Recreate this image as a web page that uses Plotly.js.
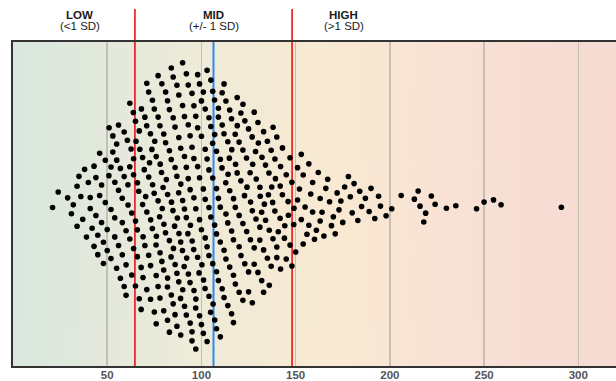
<!DOCTYPE html>
<html><head><meta charset="utf-8">
<script src="https://cdn.plot.ly/plotly-3.0.1.min.js"></script>
<style>html,body{margin:0;padding:0;background:#fff}#chart{width:616px;height:381px}</style>
</head><body><div id="chart"></div>
<script>
// ---- data ----
const scores = [
21,24,29,
31,32,34,34,
35,36,37,38,39,
40,41,41,42,43,43,44,44,
45,45,46,46,47,47,48,48,49,49,
50,50,51,51,52,52,52,53,53,54,54,54,
55,55,55,56,56,56,57,57,58,58,58,59,59,59,
60,60,60,61,61,61,62,62,62,63,63,63,64,64,64,64,
65,65,65,65,66,66,66,67,67,67,67,68,68,68,69,69,69,69,
70,70,70,70,71,71,71,71,72,72,72,72,73,73,73,73,74,74,74,74,
75,75,75,75,76,76,76,76,76,77,77,77,77,78,78,78,78,78,79,79,79,79,
80,80,80,80,80,81,81,81,81,82,82,82,82,82,83,83,83,83,84,84,84,84,84,
85,85,85,85,85,86,86,86,86,86,87,87,87,87,87,88,88,88,88,88,89,89,89,89,89,
90,90,90,90,90,91,91,91,91,91,92,92,92,92,92,93,93,93,93,93,94,94,94,94,94,
95,95,95,95,95,96,96,96,96,96,97,97,97,97,97,98,98,98,98,99,99,99,99,99,
100,100,100,100,100,101,101,101,101,102,102,102,102,102,103,103,103,103,104,104,104,104,104,
105,105,105,105,106,106,106,106,106,107,107,107,107,108,108,108,108,108,109,109,109,109,
110,110,110,110,111,111,111,111,112,112,112,112,113,113,113,113,114,114,114,114,
115,115,115,115,116,116,116,116,117,117,117,117,118,118,118,118,119,119,119,
120,120,120,120,121,121,121,122,122,122,122,123,123,123,124,124,124,
125,125,125,126,126,126,127,127,127,127,128,128,128,129,129,129,
130,130,130,131,131,131,132,132,132,132,133,133,133,134,134,134,
135,135,135,136,136,136,137,137,137,138,138,138,139,139,139,
140,140,140,141,141,142,142,142,143,143,144,144,
145,145,146,146,147,147,148,148,149,149,
150,151,151,152,153,153,154,154,
155,156,157,157,158,159,159,
160,161,162,163,163,164,
165,166,167,168,169,
170,171,172,173,174,
175,176,178,179,
180,181,183,184,
185,187,189,
190,192,194,
195,198,201,206,213,215,216,218,219,222,224,230,235,246,250,255,259,291
];
const meanValue = 106.4;
const sdValue = 41.7;
const tickValues = [50, 100, 150, 200, 250, 300];
const tickLabels = ['50', '100', '150', '200', '250', '300'];
const bandNames = ['LOW', 'MID', 'HIGH'];
const bandNotes = ['(<1 SD)', '(+/- 1 SD)', '(>1 SD)'];
const bandCenters = [35.5, 106.4, 175.5];
const xRange = [0, 320];
const gradientStops = [
  [0.00, '#d9e8df'],
  [0.15, '#e3e9dc'],
  [0.31, '#efebd9'],
  [0.53, '#f9e9d2'],
  [0.73, '#f8e2d6'],
  [1.00, '#f6dad2']
];

// ---- layout geometry ----
const W = 616, H = 381;
const M = {l: 13, r: 0, t: 42, b: 15};
const plotW = W - M.l - M.r, plotH = H - M.t - M.b;
const paperY = pix => (M.t + plotH - pix) / plotH;

// ---- sina-style swarm layout: spread within the data's density, then relax overlaps ----
const bw = 10, HALF = 142, R = 4.5;
function kde(v) { let s = 0; for (const t of scores) { const u = (v - t) / bw; s += Math.exp(-0.5 * u * u); } return s; }
let kmax = 0;
for (let v = xRange[0]; v <= xRange[1]; v += 0.5) kmax = Math.max(kmax, kde(v));
const toPx = v => (v - xRange[0]) / (xRange[1] - xRange[0]) * plotW;
const PHI = 0.6180339887498949;
const N = scores.length;
const nodes = scores.map((v, i) => {
  const k = (i * 137) % N;
  const u = ((k + 0.5) * PHI) % 1 * 2 - 1;
  const half = Math.max(5, HALF * kde(v) / kmax);
  const tx = toPx(v);
  return {tx: tx, x: tx, y: u * half, vx: 0, vy: 0};
});
function collide(strength) {
  const n = nodes.length, r = 2 * R, r2 = r * r;
  for (let i = 0; i < n; i++) {
    const nd = nodes[i];
    const xi = nd.x + nd.vx, yi = nd.y + nd.vy;
    for (let j = i + 1; j < n; j++) {
      const d = nodes[j];
      let x = xi - d.x - d.vx;
      if (x > r || x < -r) continue;
      let y = yi - d.y - d.vy;
      let l = x * x + y * y;
      if (l < r2) {
        if (y === 0) { y = 1e-3; l += y * y; }
        l = Math.sqrt(l);
        l = (r - l) / l * strength;
        x *= l; y *= l;
        nd.vx += x * 0.5; nd.vy += y * 0.5;
        d.vx -= x * 0.5; d.vy -= y * 0.5;
      }
    }
  }
}
for (let k = 0; k < 80; k++) {
  for (const nd of nodes) nd.vx += (nd.tx - nd.x) * 0.3;
  collide(0.6);
  for (const nd of nodes) { nd.x += (nd.vx *= 0.6); nd.y += (nd.vy *= 0.6); }
}
const px = nodes.map(nd => xRange[0] + nd.x / plotW * (xRange[1] - xRange[0]));
const py = nodes.map(nd => nd.y);

// ---- gradient background image ----
const cv = document.createElement('canvas');
cv.width = 600; cv.height = 4;
const ctx = cv.getContext('2d');
const grd = ctx.createLinearGradient(0, 0, 600, 0);
gradientStops.forEach(s => grd.addColorStop(s[0], s[1]));
ctx.fillStyle = grd; ctx.fillRect(0, 0, 600, 4);
const bgURL = cv.toDataURL('image/png');

const lowCut = meanValue - sdValue, highCut = meanValue + sdValue;
const topY = paperY(9);

const shapes = [
  {type: 'line', xref: 'x', yref: 'paper', x0: lowCut, x1: lowCut, y0: 0, y1: topY, line: {color: '#e8141b', width: 1.6}, layer: 'between'},
  {type: 'line', xref: 'x', yref: 'paper', x0: highCut, x1: highCut, y0: 0, y1: topY, line: {color: '#e8141b', width: 1.6}, layer: 'between'},
  {type: 'line', xref: 'x', yref: 'paper', x0: meanValue, x1: meanValue, y0: 0, y1: 1, line: {color: '#2a8cf2', width: 2}, layer: 'between'}
];

const annotations = [];
const labFont = {family: 'Liberation Sans, Arial, sans-serif', size: 11.5, color: '#1a1a1a'};
bandNames.forEach((nm, i) => {
  annotations.push({x: bandCenters[i], y: paperY(15), xref: 'x', yref: 'paper', text: '<b>' + nm + '</b>', showarrow: false, xanchor: 'center', yanchor: 'middle', font: labFont});
  annotations.push({x: bandCenters[i], y: paperY(26.5), xref: 'x', yref: 'paper', text: bandNotes[i], showarrow: false, xanchor: 'center', yanchor: 'middle', font: labFont});
});

const data = [{
  type: 'scatter', mode: 'markers', x: px, y: py,
  marker: {size: 5.6, color: '#000000', line: {width: 0}},
  hoverinfo: 'x', cliponaxis: false
}];

const layout = {
  width: W, height: H,
  margin: M,
  paper_bgcolor: '#ffffff', plot_bgcolor: 'rgba(0,0,0,0)',
  showlegend: false,
  xaxis: {
    range: xRange, tickvals: tickValues, ticktext: tickLabels,
    showgrid: true, gridcolor: '#c7bfb0', gridwidth: 1.5,
    zeroline: false, showline: true, mirror: true, linecolor: '#333333', linewidth: 2,
    ticks: '', ticklen: 0, ticklabelstandoff: -3,
    tickfont: {family: 'Liberation Sans, Arial, sans-serif', size: 11.5, color: '#555555', weight: 'bold'},
    fixedrange: true, automargin: false
  },
  yaxis: {
    range: [-plotH / 2, plotH / 2], showgrid: false, zeroline: false, showticklabels: false,
    showline: true, linecolor: '#333333', linewidth: 2, ticks: '', fixedrange: true, automargin: false
  },
  images: [{source: bgURL, xref: 'paper', yref: 'paper', x: 0, y: 1, sizex: 1, sizey: 1, sizing: 'stretch', layer: 'below', xanchor: 'left', yanchor: 'top'}],
  shapes: shapes,
  annotations: annotations
};

Plotly.newPlot('chart', data, layout, {displayModeBar: false, staticPlot: true});
</script>
</body></html>
